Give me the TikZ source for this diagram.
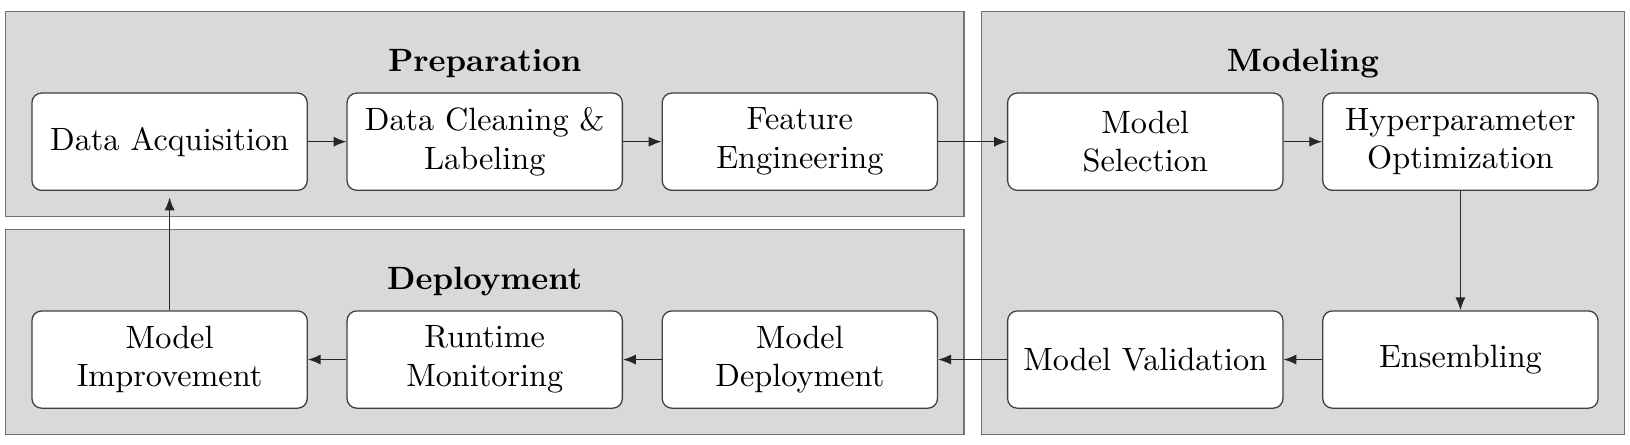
\documentclass[tikz,border=0pt]{standalone}
\usepackage{tikz}
\usetikzlibrary{arrows.meta,positioning,calc,fit,backgrounds}

\begin{document}
\begin{tikzpicture}[node distance=4.2mm,
   stage/.style={draw=black!75,rounded corners=3pt,fill=white,minimum width=3cm,
                 minimum height=1.06cm,align=center},
   group/.style={draw=black!55,fill=black!15,inner sep=0pt},
   title/.style={font=\bfseries},
   flow/.style={-{Latex[length=1.4mm,width=1.1mm]},black!85}]
  % top row
  \node[stage] (acq) {Data Acquisition};
  \node[stage,right=of acq] (clean) {Data Cleaning \&\\Labeling};
  \node[stage,right=of clean] (feat) {Feature\\Engineering};
  \node[stage,right=7.5mm of feat] (sel) {Model\\Selection};
  \node[stage,right=of sel] (hyp) {Hyperparameter\\Optimization};
  % bottom row
  \node[stage,below=13mm of hyp] (ens) {Ensembling};
  \node[stage,left=of ens] (val) {Model Validation};
  \node[stage,left=7.5mm of val] (dep) {Model\\Deployment};
  \node[stage,left=of dep] (mon) {Runtime\\Monitoring};
  \node[stage,left=of mon] (imp) {Model\\Improvement};
  % phase boxes
  \begin{scope}[on background layer]
    \node[group,fit={($(acq.north west)+(-2.8mm,8.8mm)$) ($(feat.south east)+(2.8mm,-2.8mm)$)}] (prep) {};
    \node[group,fit={($(imp.north west)+(-2.8mm,8.8mm)$) ($(dep.south east)+(2.8mm,-2.8mm)$)}] (depl) {};
    \node[group,fit={($(sel.north west)+(-2.8mm,8.8mm)$) ($(ens.south east)+(2.8mm,-2.8mm)$)}] (modl) {};
  \end{scope}
  \node[title] (preptitle) at ($(prep.north)+(0,-5.75mm)$) {Preparation};
  \node[title] (depltitle) at ($(depl.north)+(0,-5.75mm)$) {Deployment};
  \node[title] (modltitle) at ($(modl.north)+(0,-5.75mm)$) {Modeling};
  % flow
  \draw[flow] (acq) -- (clean);
  \draw[flow] (clean) -- (feat);
  \draw[flow] (feat) -- (sel);
  \draw[flow] (sel) -- (hyp);
  \draw[flow] (hyp) -- (ens);
  \draw[flow] (ens) -- (val);
  \draw[flow] (val) -- (dep);
  \draw[flow] (dep) -- (mon);
  \draw[flow] (mon) -- (imp);
  \draw[flow,shorten >=2pt] (imp) -- (acq);
  \useasboundingbox ($(prep.north west)+(-0.054,0.12)$) rectangle ($(modl.south east)+(0.054,-0.1)$);
\end{tikzpicture}
\end{document}
